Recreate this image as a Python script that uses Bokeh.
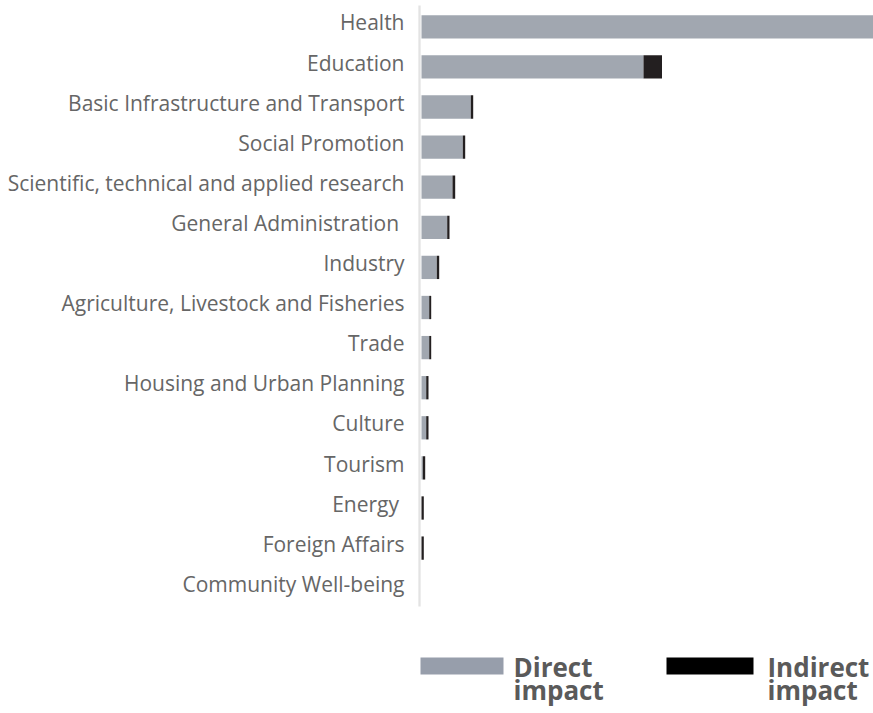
from bokeh.plotting import figure
from bokeh.models import Range1d, ColumnDataSource
from bokeh.core.properties import value
from bokeh.embed import file_html
from bokeh.resources import INLINE

# ---- data ----
categories = [
    "Health",
    "Education",
    "Basic Infrastructure and Transport",
    "Social Promotion",
    "Scientific, technical and applied research",
    "General Administration\u00a0",
    "Industry",
    "Agriculture, Livestock and Fisheries",
    "Trade",
    "Housing and Urban Planning",
    "Culture",
    "Tourism",
    "Energy\u00a0",
    "Foreign Affairs",
    "Community Well-being",
]
direct_impact = [452, 222, 49.3, 41.3, 31, 25.7, 15.3, 7.7, 7.7, 4.7, 4.7, 1.3, 0, 0, 0]
indirect_impact = [3, 18.5, 2.4, 2.4, 2.7, 2.3, 2.4, 2.0, 2.0, 2.3, 2.3, 2.4, 2.3, 2.3, 0]
legend_labels = [("Direct", "impact"), ("Indirect", "impact")]

# ---- layout constants (pixels) ----
W, H = 873, 713
ZERO_PX = 421          # x pixel of value 0
ROW = 40.1             # row pitch
TOP = 26.3             # centre of first row

rows = list(range(len(categories)))
left = [0] * len(rows)
mid = list(direct_impact)
right = [d + i for d, i in zip(direct_impact, indirect_impact)]

src = ColumnDataSource(dict(y=rows, cat=categories, left=left, mid=mid, right=right))

p = figure(width=W, height=H, output_backend="svg", toolbar_location=None,
           x_range=Range1d(-ZERO_PX, W - ZERO_PX),
           y_range=Range1d((H - TOP) / ROW, -TOP / ROW),
           min_border=0, outline_line_color=None)
p.axis.visible = False
p.grid.visible = False
p.background_fill_color = "white"
p.border_fill_color = "white"

bar_h = 23.3 / ROW
p.hbar(y="y", left="left", right="mid", height=bar_h, source=src,
       fill_color="#a1a7b0", line_color=None)
p.hbar(y="y", left="mid", right="right", height=bar_h, source=src,
       fill_color="#231f20", line_color=None)


def py(px):
    return (px - TOP) / ROW


def px_(x):
    return x - ZERO_PX


# vertical axis line
p.segment(x0=[px_(419)], x1=[px_(419)], y0=[py(5)], y1=[py(606)],
          line_color="#e3e3e3", line_width=2.3)

# category labels
p.text(x=0, y="y", text="cat", source=src, x_offset=-17, y_offset=-4.4,
       text_align="right", text_baseline="alphabetic",
       text_font=value("Open Sans"), text_font_size="21px", text_color="#666666")

# legend
p.quad(left=[px_(420), px_(666)], right=[px_(503), px_(753)],
       top=[py(657), py(657)], bottom=[py(674), py(674)],
       fill_color=["#979eab", "#000000"], line_color=None)
for (l1, l2), xx in zip(legend_labels, [513, 767]):
    p.text(x=[px_(xx), px_(xx)], y=[py(666), py(689)], text=[l1, l2],
           text_align="left", text_baseline="alphabetic",
           text_font=value("Open Sans"), text_font_size="26px",
           text_font_style="bold", text_color="#5a5a5a")

open("out.html", "w").write(file_html(p, INLINE))
